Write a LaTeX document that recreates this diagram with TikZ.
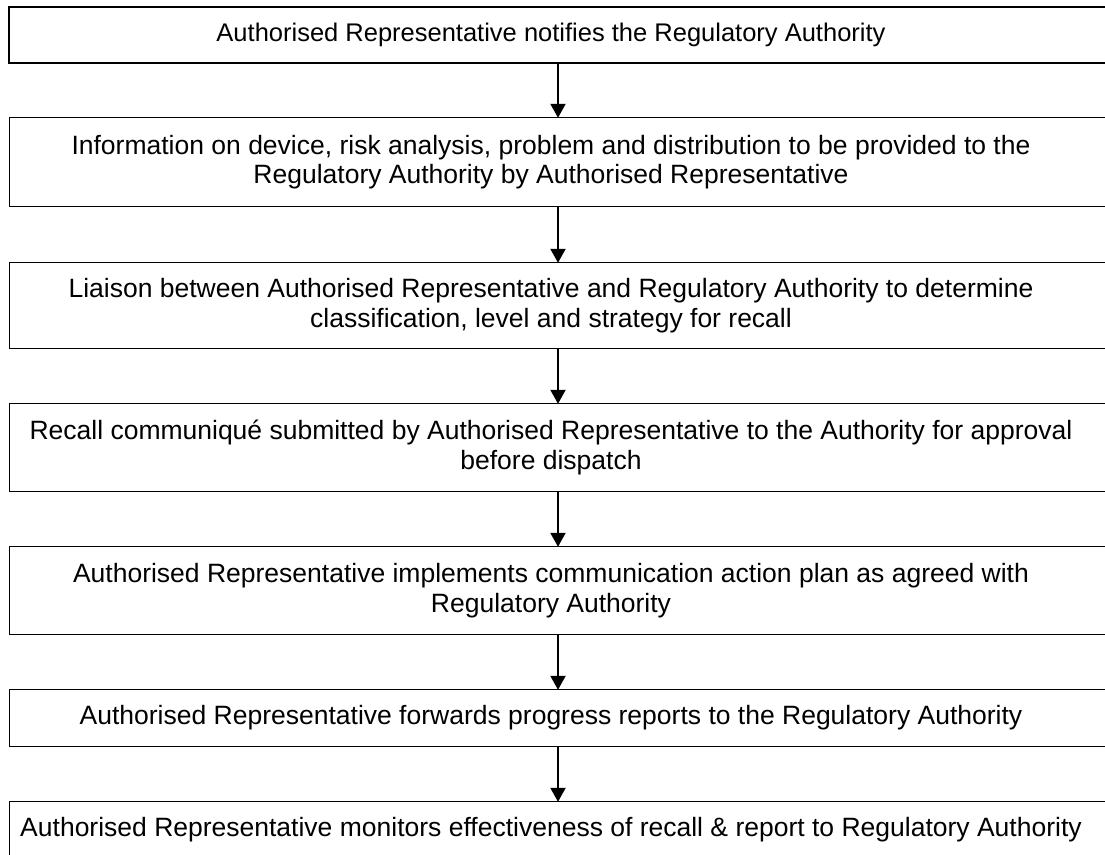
\documentclass[tikz,border=0pt]{standalone}
\usepackage{fontspec}
\setmainfont{Liberation Sans}
\usetikzlibrary{arrows.meta}
\begin{document}
\begin{tikzpicture}[x=1pt,y=-1pt,
  stepbox/.style={minimum width=1083pt, inner sep=0pt,
    align=center, font=\fontsize{26.5}{29.5}\selectfont},
  frame/.style={draw, line width=1.3pt},
  link/.style={line width=2pt, -{Triangle[width=15pt,length=14pt]}}]
\useasboundingbox (0,0) rectangle (1105,854);
\clip (0,0) rectangle (1105,854);
\coordinate (ax) at (558,0);

\node[stepbox, minimum height=56pt, font=\fontsize{25.5}{29.5}\selectfont] (b1) at (551,35)
  {Authorised Representative notifies the Regulatory Authority};
\node[stepbox, minimum height=88pt] (b2) at (551,162)
  {Information on device, risk analysis, problem and distribution to be provided to the\\
   Regulatory Authority by Authorised Representative};
\node[stepbox, minimum height=85pt] (b3) at (551,305.5)
  {Liaison between Authorised Representative and Regulatory Authority to determine\\
   classification, level and strategy for recall};
\node[stepbox, minimum height=87pt] (b4) at (551,447.5)
  {Recall communiqué submitted by Authorised Representative to the Authority for approval\\
   before dispatch};
\node[stepbox, minimum height=87pt] (b5) at (551,590.5)
  {Authorised Representative implements communication action plan as agreed with\\
   Regulatory Authority};
\node[stepbox, minimum height=56pt] (b6) at (551,718)
  {Authorised Representative forwards progress reports to the Regulatory Authority};
\node[stepbox, minimum height=56pt] (b7) at (551,830)
  {Authorised Representative monitors effectiveness of recall \& report to Regulatory Authority};

% frames run on past the right edge of the page
\draw[frame, line width=2pt] (b1.north west) rectangle ([xshift=30pt]b1.south east);
\foreach \n in {b2,b3,b4,b5,b6,b7}
  \draw[frame] (\n.north west) rectangle ([xshift=30pt]\n.south east);

\foreach \a/\b in {b1/b2, b2/b3, b3/b4, b4/b5, b5/b6, b6/b7}
  \draw[link] (\a.south -| ax) -- (\b.north -| ax);
\end{tikzpicture}
\end{document}
